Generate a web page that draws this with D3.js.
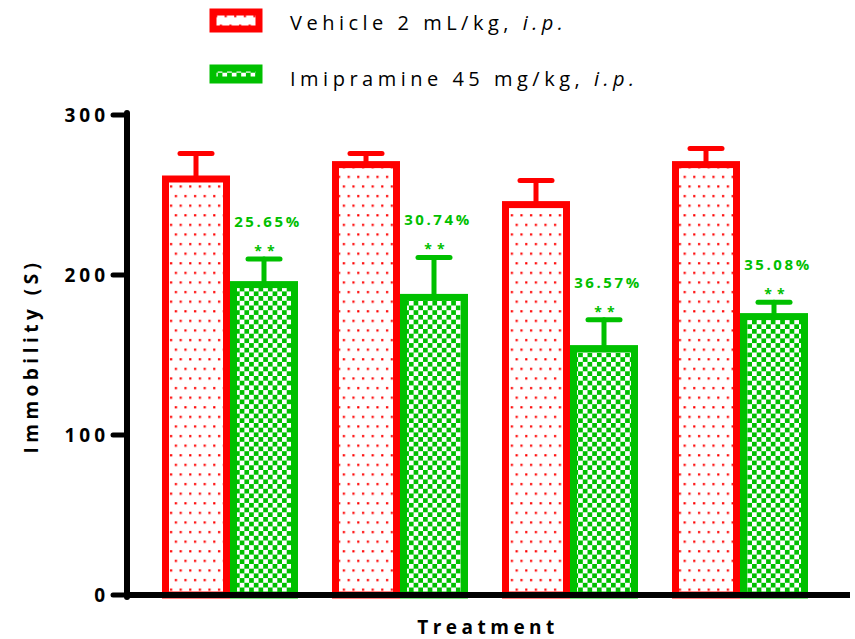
<!doctype html>
<html>
<head>
  <meta charset="utf-8">
  <title>Immobility</title>
  <style>
  body{
    margin: 0;
    background: #fff;
    font-family: "Open Sans", "Liberation Sans", sans-serif;
  }
  </style>
</head>
<body>
  <svg></svg>

  <script src="https://d3js.org/d3.v7.min.js"></script>
  <script>
  var width = 855;
  var height = 639;

  // values
  var groups = ['1', '2', '3', '4'];
  var vehicleMean = [260, 269, 244, 269];
  var vehicleSem = [16, 7, 15, 10];
  var imipramineMean = [194, 186, 154, 174];
  var imipramineSem = [16, 25, 18, 9];
  var reductionLabels = ['25.65%', '30.74%', '36.57%', '35.08%'];
  var significance = ['**', '**', '**', '**'];
  var yTicks = [0, 100, 200, 300];
  var seriesNames = ['Vehicle', 'Imipramine'];

  var red = '#ff0000';
  var green = '#00c000';
  var sw = 7;

  var svg = d3.select('svg')
    .attr('width', width)
    .attr('height', height);

  var defs = svg.append('defs');

  var dots = defs.append('pattern')
    .attr('id', 'dots')
    .attr('patternUnits', 'userSpaceOnUse')
    .attr('width', 9.6)
    .attr('height', 19.2);
  dots.append('rect').attr('width', 9.6).attr('height', 19.2).attr('fill', '#fff');
  dots.append('rect').attr('x', 2).attr('y', 3).attr('width', 2.2).attr('height', 2.2).attr('fill', red);
  dots.append('rect').attr('x', 6.8).attr('y', 12.6).attr('width', 2.2).attr('height', 2.2).attr('fill', red);

  var checks = defs.append('pattern')
    .attr('id', 'checks')
    .attr('patternUnits', 'userSpaceOnUse')
    .attr('width', 9.4)
    .attr('height', 9.4);
  checks.append('rect').attr('width', 9.4).attr('height', 9.4).attr('fill', '#fff');
  checks.append('rect').attr('width', 4.7).attr('height', 4.7).attr('fill', green);
  checks.append('rect').attr('x', 4.7).attr('y', 4.7).attr('width', 4.7).attr('height', 4.7).attr('fill', green);

  var y = d3.scaleLinear().domain([0, 300]).range([595, 115]);
  var x0 = d3.scaleBand().domain(groups).range([145, 825])
    .paddingInner(0.2).paddingOuter(0.1);
  var x1 = d3.scaleBand().domain(seriesNames).range([0, x0.bandwidth()]);

  var color = d3.scaleOrdinal().domain(seriesNames).range([red, green]);
  var fill = d3.scaleOrdinal().domain(seriesNames).range(['url(#dots)', 'url(#checks)']);

  var rows = [];
  groups.forEach(function(g, i){
    rows.push({ g: g, s: 'Vehicle', mean: vehicleMean[i], sem: vehicleSem[i] });
    rows.push({ g: g, s: 'Imipramine', mean: imipramineMean[i], sem: imipramineSem[i] });
  });

  function cx(d){ return x0(d.g) + x1(d.s) + x1.bandwidth() / 2; }

  // bars
  svg.append('g').selectAll('rect').data(rows).enter().append('rect')
    .attr('x', function(d){ return x0(d.g) + x1(d.s) + sw / 2; })
    .attr('y', function(d){ return y(d.mean); })
    .attr('width', x1.bandwidth() - sw)
    .attr('height', function(d){ return y(0) - y(d.mean); })
    .attr('fill', function(d){ return fill(d.s); })
    .attr('stroke', function(d){ return color(d.s); })
    .attr('stroke-width', sw);

  // error bars (upper only)
  var err = svg.append('g').selectAll('g').data(rows).enter().append('g')
    .attr('stroke', function(d){ return color(d.s); })
    .attr('stroke-width', 5)
    .attr('stroke-linecap', 'round');
  err.append('line')
    .attr('x1', cx).attr('x2', cx)
    .attr('y1', function(d){ return y(d.mean) - sw / 2; })
    .attr('y2', function(d){ return y(d.mean + d.sem); });
  err.append('line')
    .attr('x1', function(d){ return cx(d) - 16; })
    .attr('x2', function(d){ return cx(d) + 16; })
    .attr('y1', function(d){ return y(d.mean + d.sem); })
    .attr('y2', function(d){ return y(d.mean + d.sem); });

  // reduction labels and stars
  var ann = svg.append('g')
    .attr('fill', green)
    .attr('font-weight', 'bold')
    .attr('text-anchor', 'middle');
  ann.selectAll('.pct').data(groups).enter().append('text')
    .attr('class', 'pct')
    .attr('x', function(g){ return x0(g) + x1('Imipramine') + x1.bandwidth() / 2 + 4; })
    .attr('y', function(g, i){ return y(imipramineMean[i] + imipramineSem[i]) - 32; })
    .attr('font-size', 15)
    .style('letter-spacing', '2.6px')
    .text(function(g, i){ return reductionLabels[i]; });
  ann.selectAll('.sig').data(groups).enter().append('text')
    .attr('class', 'sig')
    .attr('x', function(g){ return x0(g) + x1('Imipramine') + x1.bandwidth() / 2 + 3; })
    .attr('y', function(g, i){ return y(imipramineMean[i] + imipramineSem[i]) - 3; })
    .attr('font-size', 14)
    .style('letter-spacing', '5px')
    .text(function(g, i){ return significance[i]; });

  // axes
  var axis = svg.append('g').attr('stroke', '#000').attr('stroke-linecap', 'round');
  axis.append('line')
    .attr('x1', 127).attr('x2', 127)
    .attr('y1', y(300) - 2).attr('y2', y(0) + 2)
    .attr('stroke-width', 6);
  axis.append('line')
    .attr('x1', 127).attr('x2', 850)
    .attr('y1', y(0)).attr('y2', y(0))
    .attr('stroke-width', 6)
    .attr('stroke-linecap', 'butt');
  axis.selectAll('.tick').data(yTicks).enter().append('line')
    .attr('x1', 113).attr('x2', 127)
    .attr('y1', function(d){ return y(d); })
    .attr('y2', function(d){ return y(d); })
    .attr('stroke-width', 5);

  svg.append('g').selectAll('text').data(yTicks).enter().append('text')
    .attr('x', 109)
    .attr('y', function(d){ return y(d) + 7; })
    .attr('text-anchor', 'end')
    .attr('font-size', 19)
    .attr('font-weight', 'bold')
    .style('letter-spacing', '4px')
    .text(function(d){ return d; });

  svg.append('text')
    .attr('transform', 'translate(38,' + 356 + ') rotate(-90)')
    .attr('text-anchor', 'middle')
    .attr('font-size', 19)
    .attr('font-weight', 'bold')
    .style('letter-spacing', '4.5px')
    .text('Immobility (S)');

  svg.append('text')
    .attr('x', 488)
    .attr('y', 634)
    .attr('text-anchor', 'middle')
    .attr('font-size', 19)
    .attr('font-weight', 'bold')
    .style('letter-spacing', '4.5px')
    .text('Treatment');

  // legend
  var legendText = [
    ['Vehicle 2 mL/kg, ', 'i.p.'],
    ['Imipramine 45 mg/kg, ', 'i.p.']
  ];
  var legend = svg.append('g').selectAll('g').data(seriesNames).enter().append('g')
    .attr('transform', function(d, i){ return 'translate(213,' + (12 + i * 56) + ')'; });
  legend.append('rect')
    .attr('width', 46)
    .attr('height', function(d, i){ return i === 0 ? 17 : 12; })
    .attr('fill', function(d){ return fill(d); })
    .attr('stroke', function(d){ return color(d); })
    .attr('stroke-width', 7);
  var lt = legend.append('text')
    .attr('x', 77)
    .attr('y', 18)
    .attr('font-size', 20)
    .style('letter-spacing', '4.5px');
  lt.append('tspan').text(function(d, i){ return legendText[i][0]; });
  lt.append('tspan').attr('font-style', 'italic').text(function(d, i){ return legendText[i][1]; });
  </script>
</body>
</html>
